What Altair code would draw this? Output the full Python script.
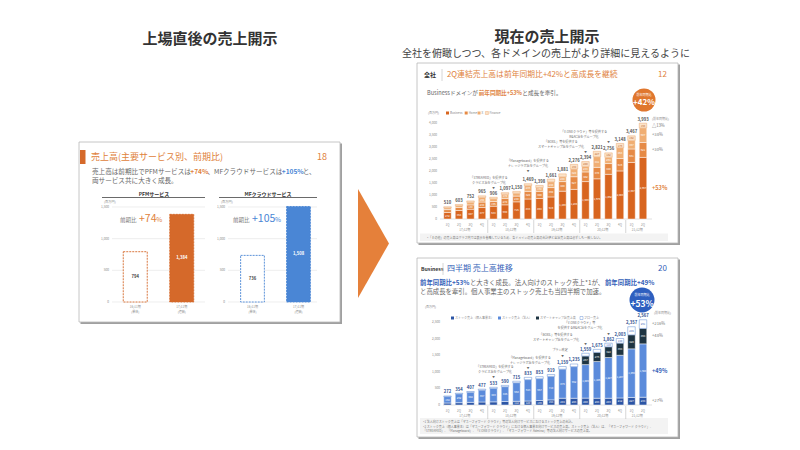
import altair as alt
import pandas as pd

FONT = "Noto Sans CJK JP"
ORANGE = "#E0823C"
ORANGE_D = "#D5692A"
BLUE = "#4A86D5"
BLUE_T = "#3461B8"
GRAY = "#5a5a5a"
LGRAY = "#8a8a8a"

# ---------------- data ----------------
pfm_periods = ["16/11期", "17/11期"]
pfm_notes = ["(単体)", "(連結)"]
pfm_sales = [794, 1384]
mf_sales = [736, 1508]
left_ticks = [0, 500, 1000, 1500]

quarters = ["1Q", "2Q", "3Q", "4Q"] * 4 + ["1Q", "2Q"]
years = ["17/12期", "18/12期", "19/12期", "20/12期", "21/12期"]
year_centers = [1.5, 5.5, 9.5, 13.5, 16.5]
year_breaks = [3.5, 7.5, 11.5, 15.5]

# company-wide (all domains)
totals_all = [510, 603, 752, 965, 906, 1097, 1150, 1469, 1398, 1661, 1881, 2276, 2394, 2821, 2756, 3148, 3467, 3993]
business = [272, 354, 407, 477, 533, 590, 715, 833, 853, 919, 1159, 1235, 1559, 1675, 1862, 2003, 2357, 2567]
home = [120, 125, 180, 230, 195, 270, 240, 320, 300, 390, 400, 527, 402, 478, 448, 516, 561, 621]
xdom = [70, 75, 110, 190, 110, 170, 120, 236, 160, 240, 200, 320, 233, 441, 264, 453, 357, 607]
finance = [48, 49, 55, 68, 68, 67, 75, 80, 85, 112, 122, 194, 200, 227, 182, 176, 192, 198]
top_ticks = [0, 500, 1000, 1500, 2000, 2500, 3000, 3500, 4000]
top_yoy = ["△13%", "+38%", "+30%", "+53%"]

# Business domain
kojin = [60, 70, 80, 90, 95, 105, 112, 120, 136, 154, 204, 203, 208, 204, 203, 212, 227, 234]
houjin = [192, 262, 302, 357, 403, 445, 558, 643, 657, 710, 875, 952, 1009, 1105, 1227, 1287, 1465, 1608]
smartcamp = [0] * 12 + [257, 276, 322, 364, 420, 464]
flow = [20, 22, 25, 30, 35, 40, 45, 70, 60, 55, 80, 80, 85, 90, 110, 140, 245, 261]
bot_ticks = [0, 500, 1000, 1500, 2000, 2500]
bot_yoy = ["+216%", "+48%", "+49%", "+27%"]

# ---------------- helpers ----------------
layers = []


def add(*cs):
    layers.extend(cs)


def T(s, x, y, size, color=GRAY, weight="normal", align="left"):
    return alt.Chart(alt.Data(values=[{"t": s}])).mark_text(
        font=FONT, fontSize=size, color=color, fontWeight=weight, align=align, baseline="middle"
    ).encode(x=alt.value(x), y=alt.value(y), text="t:N")


def R(x1, y1, x2, y2, fill="white", stroke=None, sw=0.0):
    kw = dict(fill=fill, opacity=1)
    if stroke:
        kw.update(stroke=stroke, strokeWidth=sw)
    return alt.Chart(alt.Data(values=[{"k": 0}])).mark_rect(**kw).encode(
        x=alt.value(x1), x2=alt.value(x2), y=alt.value(y1), y2=alt.value(y2))


def L(x1, y1, x2, y2, color="#999", sw=1.0):
    return alt.Chart(alt.Data(values=[{"k": 0}])).mark_rule(color=color, strokeWidth=sw).encode(
        x=alt.value(x1), x2=alt.value(x2), y=alt.value(y1), y2=alt.value(y2))


def C(x, y, d, color):
    return alt.Chart(alt.Data(values=[{"k": 0}])).mark_point(
        shape="circle", filled=True, size=d * d, color=color, opacity=1, strokeWidth=0
    ).encode(x=alt.value(x), y=alt.value(y))


def tw(s, size, bold=False):
    w = 0.0
    for ch in s:
        o = ord(ch)
        if o >= 0x2E80:
            w += 1.0
        elif ch == " ":
            w += 0.25
        elif ch == "%":
            w += 0.85
        elif ch.isupper():
            w += 0.63
        elif ch in "il.,:;!|()":
            w += 0.3
        else:
            w += 0.55
    return w * size * (1.04 if bold else 1.0)


def segs(parts, x, y, size):
    cx = x
    for s, color, bold in parts:
        add(T(s, cx, y, size, color, "bold" if bold else "normal"))
        cx += tw(s, size, bold)


def frame(x1, y1, x2, y2):
    add(R(x1 + 1.5, y1 + 1.5, x2 + 2, y2 + 2, fill="#a0a0a0"))
    add(R(x1, y1, x2, y2, fill="white", stroke="#b8b8b8", sw=0.8))


def fmt(v):
    return f"{v:,}"


# ---------------- titles ----------------
add(T("上場直後の売上開示", 210, 38.5, 15, "#333", "bold", "center"))
add(T("現在の売上開示", 547, 37, 15, "#333", "bold", "center"))
add(T("全社を俯瞰しつつ、各ドメインの売上がより詳細に見えるように", 546, 53.5, 10, "#444", "normal", "center"))

# arrow
add(alt.Chart(alt.Data(values=[{"k": 0}])).mark_point(
    shape="M-0.284,-1L0.284,0L-0.284,1Z", filled=True, size=109 * 109, color="#E5803A",
    opacity=1, strokeWidth=0).encode(x=alt.value(373.5), y=alt.value(243.5)))

# ---------------- left slide ----------------
frame(79, 142, 340, 322)
add(R(80, 150, 85.5, 164, fill=ORANGE_D))
add(T("売上高(主要サービス別、前期比)", 91, 156.5, 9, ORANGE))
add(T("18", 327, 156.5, 9, ORANGE, "normal", "right"))
segs([("売上高は前期比でPFMサービスは", "#666", False), ("+74%", ORANGE, True),
      ("、MFクラウドサービスは", "#666", False), ("+105%", BLUE, True), ("と、", "#666", False)], 92, 172, 6.6)
add(T("両サービス共に大きく成長。", 92, 180.5, 6.6, "#666"))


def small_chart(title, tcenter, values, color, hx0, hx1, gx0, lx, bx0, bx1, big_label, big_color, lab_x):
    add(T(title, tcenter, 194, 5, "#333", "bold", "center"))
    add(L(hx0, 197.5, hx1, 197.5, "#444", 0.8))
    add(T("(百万円)", hx0 + 2, 201.5, 3.2, LGRAY))
    ys = alt.Scale(domain=[0, 1500], range=[302, 207], nice=False, zero=True)
    tick_df = pd.DataFrame({"v": left_ticks, "lab": [fmt(t) for t in left_ticks]})
    add(alt.Chart(tick_df).mark_rule(color="#e3e3e3", strokeWidth=0.6).encode(
        y=alt.Y("v:Q", scale=ys, axis=None), x=alt.value(gx0), x2=alt.value(hx1)))
    add(alt.Chart(tick_df).mark_text(font=FONT, fontSize=3.2, color=LGRAY, align="right", baseline="middle").encode(
        y=alt.Y("v:Q", scale=ys, axis=None), x=alt.value(lx), text="lab:N"))
    xs = alt.Scale(domain=[0, 1], range=[bx0, bx1], paddingInner=0.484, paddingOuter=0.242)
    df = pd.DataFrame({"i": [0, 1], "v": values, "kind": ["prev", "cur"], "lab": [fmt(v) for v in values],
                       "mid": [v / 2 for v in values], "tc": ["#444", "white"],
                       "p": pfm_periods, "n": pfm_notes})
    add(alt.Chart(df).mark_bar(strokeWidth=0.9, strokeDash=[2, 1]).encode(
        x=alt.X("i:O", scale=xs, axis=None), y=alt.Y("v:Q", scale=ys, axis=None),
        fill=alt.Fill("kind:N", scale=alt.Scale(domain=["prev", "cur"], range=["white", color]), legend=None),
        stroke=alt.value(color)))
    add(alt.Chart(df).mark_text(font=FONT, fontSize=4.2, baseline="middle", fontWeight="bold").encode(
        x=alt.X("i:O", scale=xs, axis=None), y=alt.Y("mid:Q", scale=ys, axis=None),
        text="lab:N", color=alt.Color("tc:N", scale=None)))
    add(alt.Chart(df).mark_text(font=FONT, fontSize=3, baseline="middle", color=LGRAY).encode(
        x=alt.X("i:O", scale=xs, axis=None), y=alt.value(306.7), text="p:N"))
    add(alt.Chart(df).mark_text(font=FONT, fontSize=3, baseline="middle", color=LGRAY).encode(
        x=alt.X("i:O", scale=xs, axis=None), y=alt.value(311.7), text="n:N"))
    add(T("前期比", lab_x, 219.5, 5.5, "#777"))
    add(T(big_label, lab_x + 19, 218.5, 10.5, big_color))
    add(T("%", lab_x + 19 + tw(big_label, 10.5), 220.2, 6.5, big_color))


small_chart("PFMサービス", 154, pfm_sales, ORANGE_D, 102, 205, 112, 109, 112, 205, "+74", ORANGE, 120)
small_chart("MFクラウドサービス", 268, mf_sales, BLUE, 219, 317, 228, 225, 229.5, 321.5, "+105", BLUE, 233)

# ---------------- common x scales for quarterly charts ----------------
STEP = 11.5
QX0, QX1 = 441.75, 441.75 + STEP * 18
xq_band = alt.Scale(domain=list(range(18)), range=[QX0, QX1], paddingInner=0.35, paddingOuter=0.175)
xq_lin = alt.Scale(domain=[-0.5, 17.5], range=[QX0, QX1])


def quarterly(series_names, series_vals, colors, strokes, text_cols, totals, ys, ticks, base_y,
              total_color, yoy, yoy_colors, yoy_sizes, ylab_x, min_lab):
    tick_df = pd.DataFrame({"v": ticks, "lab": [fmt(t) for t in ticks]})
    add(alt.Chart(tick_df).mark_text(font=FONT, fontSize=3.2, color=LGRAY, align="right", baseline="middle").encode(
        y=alt.Y("v:Q", scale=ys, axis=None), x=alt.value(ylab_x), text="lab:N"))
    add(L(ylab_x + 3, base_y, 652, base_y, "#cfcfcf", 0.6))
    rows = []
    for i in range(18):
        cum = 0
        for si, name in enumerate(series_names):
            v = series_vals[si][i]
            if v > 0:
                rows.append(dict(i=i, s=name, v=v, o=si, mid=cum + v / 2, lab=fmt(v),
                                 tc=text_cols[si], show=v >= min_lab))
            cum += v
    df = pd.DataFrame(rows)
    add(alt.Chart(df).mark_bar(strokeWidth=0.45).encode(
        x=alt.X("i:O", scale=xq_band, axis=None),
        y=alt.Y("v:Q", scale=ys, axis=None, stack="zero"),
        fill=alt.Fill("s:N", scale=alt.Scale(domain=series_names, range=colors), legend=None),
        stroke=alt.Stroke("s:N", scale=alt.Scale(domain=series_names, range=strokes), legend=None),
        order=alt.Order("o:Q")))
    add(alt.Chart(df[df["show"]]).mark_text(font=FONT, fontSize=2.7, baseline="middle").encode(
        x=alt.X("i:O", scale=xq_band, axis=None), y=alt.Y("mid:Q", scale=ys, axis=None),
        text="lab:N", color=alt.Color("tc:N", scale=None)))
    tot_df = pd.DataFrame({"i": list(range(18)), "t": totals, "lab": [fmt(t) for t in totals]})
    add(alt.Chart(tot_df).mark_text(font=FONT, fontSize=4.2, fontWeight="bold", color=total_color,
                                    baseline="bottom", dy=-1.5).encode(
        x=alt.X("i:O", scale=xq_band, axis=None), y=alt.Y("t:Q", scale=ys, axis=None), text="lab:N"))
    # quarter / year labels
    q_df = pd.DataFrame({"i": list(range(18)), "q": quarters})
    add(alt.Chart(q_df).mark_text(font=FONT, fontSize=3, color=LGRAY, baseline="middle").encode(
        x=alt.X("i:O", scale=xq_band, axis=None), y=alt.value(base_y + 5.5), text="q:N"))
    y_df = pd.DataFrame({"c": year_centers, "y": years})
    add(alt.Chart(y_df).mark_text(font=FONT, fontSize=3, color=LGRAY, baseline="middle").encode(
        x=alt.X("c:Q", scale=xq_lin, axis=None), y=alt.value(base_y + 11), text="y:N"))
    b_df = pd.DataFrame({"b": year_breaks})
    add(alt.Chart(b_df).mark_rule(color="#bbbbbb", strokeWidth=0.6).encode(
        x=alt.X("b:Q", scale=xq_lin, axis=None), y=alt.value(base_y + 1), y2=alt.value(base_y + 14)))
    # YoY annotations at the last bar's segments
    last = 17
    cum = 0
    mids = []
    for si in range(len(series_names)):
        v = series_vals[si][last]
        mids.append(cum + v / 2)
        cum += v
    a_df = pd.DataFrame({"m": mids[::-1], "lab": yoy, "c": yoy_colors, "sz": yoy_sizes})
    for sz in sorted(set(yoy_sizes)):
        sub = a_df[a_df["sz"] == sz]
        add(alt.Chart(sub).mark_text(font=FONT, fontSize=sz, align="left", baseline="middle",
                                     fontWeight="bold" if sz > 5 else "normal").encode(
            y=alt.Y("m:Q", scale=ys, axis=None), x=alt.value(652), text="lab:N",
            color=alt.Color("c:N", scale=None)))


def note(lines, cx, y0, mx, my, align="center"):
    for k, s in enumerate(lines):
        add(T(s, cx, y0 + 5 * k, 3.1, "#6a6a6a", "normal", align))
    add(T("▼", mx, my, 2.6, "#6a6a6a", "normal", "center"))


# ---------------- right top slide ----------------
frame(417, 63, 678, 243)
add(R(420, 233.5, 668, 241, fill="#f3f3f3"))
add(T("全社", 424, 75, 6, "#333", "bold"))
add(L(442, 69, 442, 81, "#cccccc", 0.8))
add(T("2Q連結売上高は前年同期比+42%と高成長を継続", 447, 75, 7.8, ORANGE))
add(T("12", 667, 75, 8, ORANGE, "normal", "right"))
segs([("Businessドメインが", "#666", False), ("前年同期比+53%", ORANGE, True), ("と成長を牽引。", "#666", False)],
     427, 93, 5.6)
add(C(644, 100, 23, "#E0772E"))
add(T("前年同期比", 644, 95, 3, "white", "normal", "center"))
add(T("+42%", 644, 103, 8, "white", "bold", "center"))
add(T("(百万円)", 428, 113, 3, LGRAY))
top_names = ["Business", "Home", "X", "Finance"]
top_cols = ["#D8651F", "#E68A45", "#F0AE73", "#FBE3C9"]
lx = 446
for name, col in zip(top_names, top_cols):
    add(R(lx, 111.5, lx + 3, 114.5, fill=col, stroke="#E9A066" if name == "Finance" else None, sw=0.4))
    add(T(name, lx + 4, 113, 3, LGRAY))
    lx += 6 + tw(name, 3)
add(T("(前年同期比)", 652, 119, 3, LGRAY))
ys_top = alt.Scale(domain=[0, 4000], range=[219, 123], nice=False, zero=True)
quarterly(top_names, [business, home, xdom, finance], top_cols, ["white", "white", "white", "#E9A066"],
          ["white", "white", "white", "#C0642A"], totals_all, ys_top, top_ticks, 219, "#555555",
          top_yoy, ["#777777", "#777777", "#777777", ORANGE], [4.2, 4.2, 4.2, 5.6], 437, 140)
add(T("*「その他」の売上高はグラフ内では表示を省略しているため、各ドメインの売上高の合計値と全社売上高は必ずしも一致しない。",
      427, 237.5, 3, "#777"))
note(["「STREAMED」を提供する", "クラビス社をグループ化"], 489, 177.5, 493.5, 188)
note(["「Manageboard」を提供する", "ナレッジラボ社をグループ化"], 528, 161, 528, 171)
note(["「BOXIL」等を提供する", "スマートキャンプ社をグループ化"], 561, 141.5, 585.5, 151.5)
note(["「V-ONEクラウド」等を提供する", "R&AC社をグループ化"], 584, 131.5, 608.5, 142)

# ---------------- right bottom slide ----------------
frame(417, 258, 678, 437)
add(R(420, 418, 668, 434, fill="#f3f3f3"))
add(T("Business", 421, 269, 5.2, "#333", "bold"))
add(L(443, 263, 443, 275, "#cccccc", 0.8))
add(T("四半期 売上高推移", 447, 269, 8, BLUE_T))
add(T("20", 667, 269, 8, BLUE_T, "normal", "right"))
segs([("前年同期比+53%", BLUE_T, True), ("と大きく成長。法人向けのストック売上*1が、", "#666", False),
      ("前年同期比+49%", BLUE_T, True)], 420, 283, 6.4)
add(T("と高成長を牽引。個人事業主のストック売上も当四半期で加速。", 420, 291.5, 6.4, "#666"))
add(C(642, 300, 25, "#2E5FBF"))
add(T("前年同期比", 642, 295, 3, "white", "normal", "center"))
add(T("+53%", 642, 303.5, 8.5, "white", "bold", "center"))
add(T("(前年同期比)", 654, 313, 3, LGRAY))
add(T("(百万円)", 425, 307, 3, LGRAY))
bot_names = ["ストック売上（個人事業主）", "ストック売上（法人）", "スマートキャンプ社売上高", "フロー売上"]
bot_cols = ["#2C55A5", "#5B8BDB", "#1E3442", "white"]
lx = 451
for name, col in zip(bot_names, bot_cols):
    add(R(lx, 316.5, lx + 3, 319.5, fill=col, stroke="#4F7FCF" if col == "white" else None, sw=0.4))
    add(T(name, lx + 4, 318, 3, LGRAY))
    lx += 8 + tw(name, 3)
ys_bot = alt.Scale(domain=[0, 2500], range=[405, 322], nice=False, zero=True)
bot_totals = [k + h + s + f for k, h, s, f in zip(kojin, houjin, smartcamp, flow)]
quarterly(bot_names, [kojin, houjin, smartcamp, flow], bot_cols, ["white", "white", "white", "#4F7FCF"],
          ["white", "white", "white", "#3A66B8"], bot_totals, ys_bot, bot_ticks, 405, "#2F4F8F",
          bot_yoy, ["#777777", "#777777", BLUE_T, "#777777"], [4.2, 4.2, 5.6, 4.2], 440, 110)
add(T("*1 法人向けストック売上は「マネーフォワード クラウド」等の法人向けサービスにおけるストック売上の合計。", 423, 421.5, 3, "#777"))
add(T("*2 ストック売上（個人事業主）は「マネーフォワード クラウド」における個人事業主向けサービスの売上高。ストック売上（法人）は、「マネーフォワード クラウド」、", 423, 426.5, 3, "#777"))
add(T("「STREAMED」、「Manageboard」、「V-ONEクラウド」、「マネーフォワード Admina」等の法人向けサービスの売上高。", 423, 431, 3, "#777"))
note(["「STREAMED」を提供する", "クラビス社をグループ化"], 495, 366.5, 493.5, 376.5)
note(["「Manageboard」を提供する", "ナレッジラボ社をグループ化"], 530, 357.5, 528, 367.5)
note(["プラン改定"], 560, 350, 562.5, 355.5)
note(["「BOXIL」等を提供する", "スマートキャンプ社をグループ化"], 556, 334.5, 585.5, 344)
note(["「V-ONEクラウド」等", "を提供するR&AC社をグループ化"], 580, 323, 608.5, 333.5)

chart = alt.layer(*layers).resolve_scale(
    x="independent", y="independent", color="independent", fill="independent", stroke="independent"
).properties(
    width=800, height=450, autosize=alt.AutoSizeParams(type="none"), padding=0, background="white"
).configure_view(stroke=None)

chart.save("out.html", embed_options={"renderer": "svg", "actions": False})
